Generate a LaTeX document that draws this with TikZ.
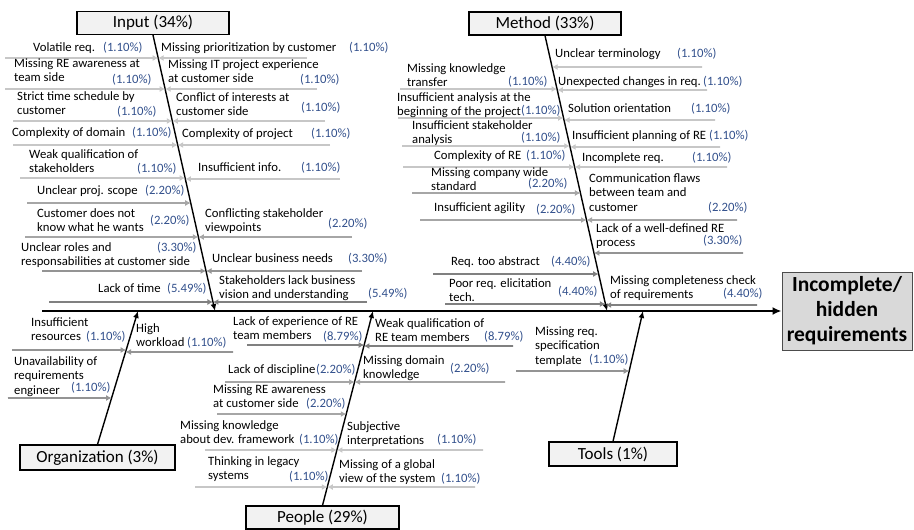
\documentclass[tikz,border=0pt]{standalone}
\usepackage{fontspec}
\setmainfont{Carlito}
\usetikzlibrary{arrows.meta}
\definecolor{pctblue}{RGB}{50,80,140}
% one cause arrow: free end at (#4,#5), tip on the bone #2--#3
\newcommand\twig[5][]{%
  \coordinate (tw-#4-#5) at (#4,#5);
  \draw[twig,#1] (tw-#4-#5) -- (intersection cs: first line={(#2)--(#3)}, second line={(tw-#4-#5)--(0,#5)});}
\begin{document}
\begin{tikzpicture}[x=1pt,y=-1pt,
    lbl/.style={font=\fontsize{12.7}{14.5}\selectfont,align=left,inner sep=0pt,anchor=base west},
    pct/.style={lbl,text=pctblue},
    twig/.style={draw=black!22,line width=1.6pt,-{Latex[length=5.5pt,width=6pt]}},
    w2/.style={draw=black!35}, w3/.style={draw=black!42}, w4/.style={draw=black!50},
    bone/.style={line width=1.4pt,-{Latex[length=7pt,width=6pt]}},
    cat/.style={draw,fill=black!5,line width=1.1pt,inner sep=0pt,font=\fontsize{17}{19}\selectfont}]
  \useasboundingbox (0,0) rectangle (914,530);

  % head and spine
  \node[draw=black!70,fill=black!15,line width=1pt,minimum width=130pt,minimum height=78pt,
        align=center,font=\bfseries\fontsize{21.5}{25}\selectfont] (head) at (847,311) {Incomplete/\\hidden\\requirements};
  \coordinate (tail) at (42,311);
  \draw[line width=2.4pt,-{Latex[length=9pt,width=8pt]}] (tail) -- (head);

  % categories
  \node[cat,minimum width=152pt,minimum height=23pt] (input) at (153,23) {Input (34\%)};
  \node[cat,minimum width=152pt,minimum height=23pt] (method) at (545,23.5) {Method (33\%)};
  \node[cat,minimum width=155pt,minimum height=25pt] (org) at (97.5,457.5) {Organization (3\%)};
  \node[cat,minimum width=153pt,minimum height=23pt] (people) at (322.5,517.5) {People (29\%)};
  \node[cat,minimum width=128pt,minimum height=24pt] (tools) at (613,454) {Tools (1\%)};
  \coordinate (inS) at (215,311);
  \coordinate (meS) at (607,311);
  \coordinate (orS) at (138,311);
  \coordinate (peS) at (373,311);
  \coordinate (toS) at (643,311);
  \draw[bone] (input.south) -- (inS);
  \draw[bone] (method.south) -- (meS);
  \draw[bone] (org.north) -- (orS);
  \draw[bone] (people.north) -- (peS);
  \draw[bone] (tools.north) -- (toS);

  % Input, left
  \twig{input.south}{inS}{5}{58}
  \twig{input.south}{inS}{5}{89}
  \twig{input.south}{inS}{13}{121}
  \twig{input.south}{inS}{13}{145}
  \twig{input.south}{inS}{20}{178}
  \twig[w2]{input.south}{inS}{27}{203}
  \twig[w2]{input.south}{inS}{25}{237}
  \twig[w3]{input.south}{inS}{42}{271}
  \twig[w4]{input.south}{inS}{49}{302}
  \node[lbl] (il1) at (33,51) {Volatile req.};                  \node[pct] (il1p) at (103,51) {(1.10\%)};
  \node[lbl] (il2) at (14,81.5) {Missing RE awareness at\\team side}; \node[pct] (il2p) at (112,83) {(1.10\%)};
  \node[lbl] (il3) at (17,114.5) {Strict time schedule by\\customer}; \node[pct] (il3p) at (117,115) {(1.10\%)};
  \node[lbl] (il4) at (12,136) {Complexity of domain};         \node[pct] (il4p) at (132,136) {(1.10\%)};
  \node[lbl] (il5) at (29,172.5) {Weak qualification of\\stakeholders}; \node[pct] (il5p) at (137,172) {(1.10\%)};
  \node[lbl] (il6) at (37,194) {Unclear proj. scope};          \node[pct] (il6p) at (145,194) {(2.20\%)};
  \node[lbl] (il7) at (37,231.5) {Customer does not\\know what he wants}; \node[pct] (il7p) at (150,224) {(2.20\%)};
  \node[lbl] (il8) at (21,265.5) {Unclear roles and\\responsabilities at customer side}; \node[pct] (il8p) at (157,251) {(3.30\%)};
  \node[lbl] (il9) at (98,292) {Lack of time};                 \node[pct] (il9p) at (167,292) {(5.49\%)};

  % Input, right
  \twig{input.south}{inS}{307}{58}
  \twig{input.south}{inS}{317}{89}
  \twig{input.south}{inS}{325}{121}
  \twig{input.south}{inS}{330}{145}
  \twig{input.south}{inS}{340}{179}
  \twig[w2]{input.south}{inS}{352}{237}
  \twig[w3]{input.south}{inS}{362}{271}
  \twig[w4]{input.south}{inS}{367}{302}
  \node[lbl] (ir1) at (161,51) {Missing prioritization by customer}; \node[pct] (ir1p) at (349,51) {(1.10\%)};
  \node[lbl] (ir2) at (168,82.5) {Missing IT project experience\\at customer side}; \node[pct] (ir2p) at (300,83) {(1.10\%)};
  \node[lbl] (ir3) at (176,115.5) {Conflict of interests at\\customer side}; \node[pct] (ir3p) at (301,111) {(1.10\%)};
  \node[lbl] (ir4) at (182,137) {Complexity of project};       \node[pct] (ir4p) at (311,137) {(1.10\%)};
  \node[lbl] (ir5) at (198,171) {Insufficient info.};          \node[pct] (ir5p) at (301,171) {(1.10\%)};
  \node[lbl] (ir6) at (205,231.5) {Conflicting stakeholder\\viewpoints}; \node[pct] (ir6p) at (328,227) {(2.20\%)};
  \node[lbl] (ir7) at (212,262) {Unclear business needs};      \node[pct] (ir7p) at (348,262) {(3.30\%)};
  \node[lbl] (ir8) at (219,298.5) {Stakeholders lack business\\vision and understanding}; \node[pct] (ir8p) at (368,297) {(5.49\%)};

  % Method, left
  \twig{method.south}{meS}{400}{89}
  \twig{method.south}{meS}{398}{118}
  \twig{method.south}{meS}{402}{146}
  \twig{method.south}{meS}{403}{167}
  \twig[w2]{method.south}{meS}{412}{193}
  \twig[w2]{method.south}{meS}{420}{220}
  \twig[w4]{method.south}{meS}{433}{274}
  \twig[w4]{method.south}{meS}{445}{304}
  \node[lbl] (ml1) at (407,86.5) {Missing knowledge\\transfer};  \node[pct] (ml1p) at (508,85) {(1.10\%)};
  \node[lbl] (ml2) at (397,115.5) {Insufficient analysis at the\\beginning of the project}; \node[pct] (ml2p) at (521,114) {(1.10\%)};
  \node[lbl] (ml3) at (412,143.5) {Insufficient stakeholder\\analysis}; \node[pct] (ml3p) at (521,141) {(1.10\%)};
  \node[lbl] (ml4) at (434,159) {Complexity of RE};            \node[pct] (ml4p) at (526,159) {(1.10\%)};
  \node[lbl] (ml5) at (431,190.5) {Missing company wide\\standard}; \node[pct] (ml5p) at (528,187) {(2.20\%)};
  \node[lbl] (ml6) at (434,211) {Insufficient agility};        \node[pct] (ml6p) at (536,213) {(2.20\%)};
  \node[lbl] (ml7) at (451,265) {Req. too abstract};           \node[pct] (ml7p) at (551,265) {(4.40\%)};
  \node[lbl] (ml8) at (449,301.5) {Poor req. elicitation\\tech.}; \node[pct] (ml8p) at (558,295) {(4.40\%)};

  % Method, right
  \twig{method.south}{meS}{702}{67}
  \twig{method.south}{meS}{707}{90}
  \twig{method.south}{meS}{715}{120}
  \twig{method.south}{meS}{720}{147}
  \twig{method.south}{meS}{727}{167}
  \twig[w2]{method.south}{meS}{737}{220}
  \twig[w3]{method.south}{meS}{743}{253}
  \twig[w4]{method.south}{meS}{757}{305}
  \node[lbl] (mr1) at (555,57) {Unclear terminology};          \node[pct] (mr1p) at (677,57) {(1.10\%)};
  \node[lbl] (mr2) at (558,85) {Unexpected changes in req.};   \node[pct] (mr2p) at (703,85) {(1.10\%)};
  \node[lbl] (mr3) at (568,112) {Solution orientation};        \node[pct] (mr3p) at (691,112) {(1.10\%)};
  \node[lbl] (mr4) at (572,139) {Insufficient planning of RE}; \node[pct] (mr4p) at (709,139) {(1.10\%)};
  \node[lbl] (mr5) at (582,161) {Incomplete req.};             \node[pct] (mr5p) at (692,161) {(1.10\%)};
  \node[lbl] (mr6) at (589,211) {Communication flaws\\between team and\\customer}; \node[pct] (mr6p) at (708,211) {(2.20\%)};
  \node[lbl] (mr7) at (596,246.5) {Lack of a well-defined RE\\process}; \node[pct] (mr7p) at (703,244) {(3.30\%)};
  \node[lbl] (mr8) at (610,298.5) {Missing completeness check\\of requirements}; \node[pct] (mr8p) at (723,297) {(4.40\%)};

  % Organization
  \twig[w3]{org.north}{orS}{12}{350}
  \twig[w3]{org.north}{orS}{8}{398}
  \twig[w3]{org.north}{orS}{233}{352}
  \node[lbl] (ol1) at (31,340.5) {Insufficient\\resources};    \node[pct] (ol1p) at (86,340) {(1.10\%)};
  \node[lbl] (ol2) at (14,394) {Unavailability of\\requirements\\engineer}; \node[pct] (ol2p) at (71,391) {(1.10\%)};
  \node[lbl] (or1) at (136,346.5) {High\\workload};            \node[pct] (or1p) at (187,346) {(1.10\%)};

  % People, left
  \twig[w4]{people.north}{peS}{247}{345}
  \twig[w2]{people.north}{peS}{225}{382}
  \twig[w2]{people.north}{peS}{217}{414}
  \twig{people.north}{peS}{205}{450}
  \twig{people.north}{peS}{195}{487}
  \node[lbl] (pl1) at (233,339.5) {Lack of experience of RE\\team members}; \node[pct] (pl1p) at (323,340) {(8.79\%)};
  \node[lbl] (pl2) at (228,373) {Lack of discipline};          \node[pct] (pl2p) at (316,373) {(2.20\%)};
  \node[lbl] (pl3) at (213,407.5) {Missing RE awareness\\at customer side}; \node[pct] (pl3p) at (306,407) {(2.20\%)};
  \node[lbl] (pl4) at (180,443.5) {Missing knowledge\\about dev. framework}; \node[pct] (pl4p) at (299,443) {(1.10\%)};
  \node[lbl] (pl5) at (208,479.5) {Thinking in legacy\\systems}; \node[pct] (pl5p) at (289,480) {(1.10\%)};

  % People, right
  \twig[w4]{people.north}{peS}{513}{346}
  \twig[w2]{people.north}{peS}{505}{382}
  \twig{people.north}{peS}{483}{450}
  \twig{people.north}{peS}{475}{487}
  \node[lbl] (pr1) at (375,341.5) {Weak qualification of\\RE team members}; \node[pct] (pr1p) at (484,340) {(8.79\%)};
  \node[lbl] (pr2) at (363,378.5) {Missing domain\\knowledge};   \node[pct] (pr2p) at (450,372) {(2.20\%)};
  \node[lbl] (pr3) at (347,444.5) {Subjective\\interpretations}; \node[pct] (pr3p) at (437,443) {(1.10\%)};
  \node[lbl] (pr4) at (339,482.5) {Missing of a global\\view of the system}; \node[pct] (pr4p) at (441,482) {(1.10\%)};

  % Tools
  \twig[w3]{tools.north}{toS}{516}{371}
  \node[lbl] (tl1) at (535,364) {Missing req.\\specification\\template}; \node[pct] (tl1p) at (589,363) {(1.10\%)};
\end{tikzpicture}
\end{document}
